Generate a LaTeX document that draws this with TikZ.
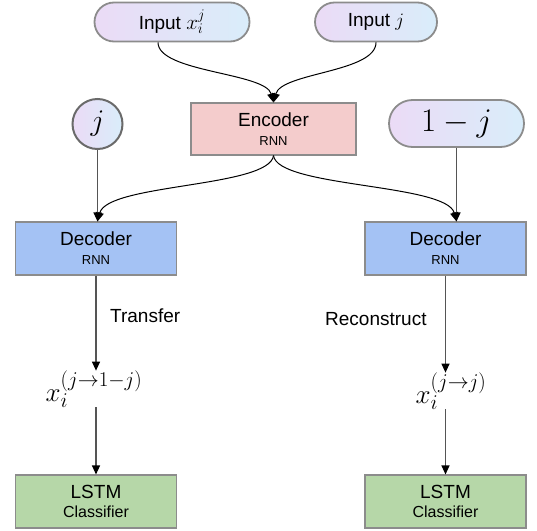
\RequirePackage{fix-cm}
\documentclass[tikz,border=0pt]{standalone}
\usepackage[no-math]{fontspec}
\setmainfont{Liberation Sans}
\usetikzlibrary{arrows.meta, positioning, calc}
\definecolor{edge}{HTML}{8C8C8C}
\definecolor{darkedge}{HTML}{6A6A6A}
\definecolor{wire}{HTML}{555555}
\definecolor{pillleft}{HTML}{EBDBF6}
\definecolor{pillright}{HTML}{D9EDFA}
\definecolor{encred}{HTML}{F4CCCC}
\definecolor{decblue}{HTML}{A4C2F4}
\definecolor{clfgreen}{HTML}{B6D7A8}
\DeclareMathSizes{27}{27}{21}{16}
\newcommand{\smalltxt}[1]{{\fontsize{13}{14}\selectfont #1}}

\begin{document}
\begin{tikzpicture}[
  x=1pt, y=-1pt,
  pill/.style={draw=edge, line width=1.8pt, left color=pillleft, right color=pillright,
               inner sep=0pt, font=\fontsize{19}{20}\selectfont},
  block/.style={draw=edge, line width=1.1pt, rectangle, minimum width=161pt,
                minimum height=53pt, align=center, inner sep=0pt,
                font=\fontsize{19}{20}\selectfont},
  tag/.style={anchor=west, inner sep=0pt, font=\fontsize{19}{20}\selectfont},
  feed/.style={draw=wire, line width=1.2pt, -{Triangle[length=9pt, width=8pt, color=black]}},
  curvewire/.style={draw=black, line width=1pt, -{Triangle[length=9pt, width=8pt]}}
]
\useasboundingbox (0,0) rectangle (537,530);

% inputs
\node[pill, minimum width=155pt, minimum height=39pt, rounded corners=19.5pt] (inx) at (172,22) {Input {\fontsize{21}{22}\selectfont$x_i^j$}};
\node[pill, minimum width=122pt, minimum height=39pt, rounded corners=19.5pt] (inj) at (376,22) {Input $j$};
\node[block, fill=encred, minimum width=165pt, minimum height=52pt] (enc) at (273.5,129) {Encoder\\[-1pt]\smalltxt{RNN}};

% domain codes
\node[pill, circle, draw=darkedge, line width=2pt, minimum size=50pt,
      font=\fontsize{30}{32}\selectfont] (sj) at (97.5,124) {$j$};
\node[pill, minimum width=135pt, minimum height=47pt, rounded corners=23.5pt,
      font=\fontsize{33}{35}\selectfont] (onej) at (456.5,123.5) {$1-j$};

% decoders
\node[block, fill=decblue] (decl) at (96,248.5) {Decoder\\[-1pt]\smalltxt{RNN}};
\node[block, fill=decblue] (decr) at (445.5,248.5) {Decoder\\[-1pt]\smalltxt{RNN}};

% outputs
\node[inner sep=0pt, font=\fontsize{27}{30}\selectfont] (xl) at (94,389) {$x_i^{(j\to1-j)}$};
\node[inner sep=0pt, font=\fontsize{27}{30}\selectfont] (xr) at (451,391) {$x_i^{(j\to j)}$};

% classifiers
\node[block, fill=clfgreen] (clfl) at (96,501.5) {LSTM\\[-1pt]{\fontsize{16}{17}\selectfont Classifier}};
\node[block, fill=clfgreen] (clfr) at (445.5,501.5) {LSTM\\[-1pt]{\fontsize{16}{17}\selectfont Classifier}};

\node[tag] (trans) at (110,316) {Transfer};
\node[tag] (recon) at (325,319) {Reconstruct};

% encoder inputs
\draw[curvewire] ([xshift=-14pt]inx.south) .. controls +(0,30) and +(-8,-30) .. (enc.north);
\draw[curvewire] (inj.south) .. controls +(0,30) and +(8,-30) .. (enc.north);

% encoder to decoders
\draw[curvewire] (enc.south) .. controls +(-4,32) and +(10,-38) .. (sj.south |- decl.north);
\draw[curvewire] (enc.south) .. controls +(4,32) and +(-10,-38) .. (onej.south |- decr.north);

% codes to decoders
\draw[feed] (sj.south) -- (sj.south |- decl.north);
\draw[feed] (onej.south) -- (onej.south |- decr.north);

% decoders to outputs to classifiers
\draw[feed] (decl.south) -- (decl.south |- xl.north);
\draw[feed] (decl.south |- xl.south) -- (clfl.north);
\draw[feed] (decr.south) -- (decr.south |- xr.north);
\draw[feed] (decr.south |- xr.south) -- (clfr.north);
\end{tikzpicture}
\end{document}
